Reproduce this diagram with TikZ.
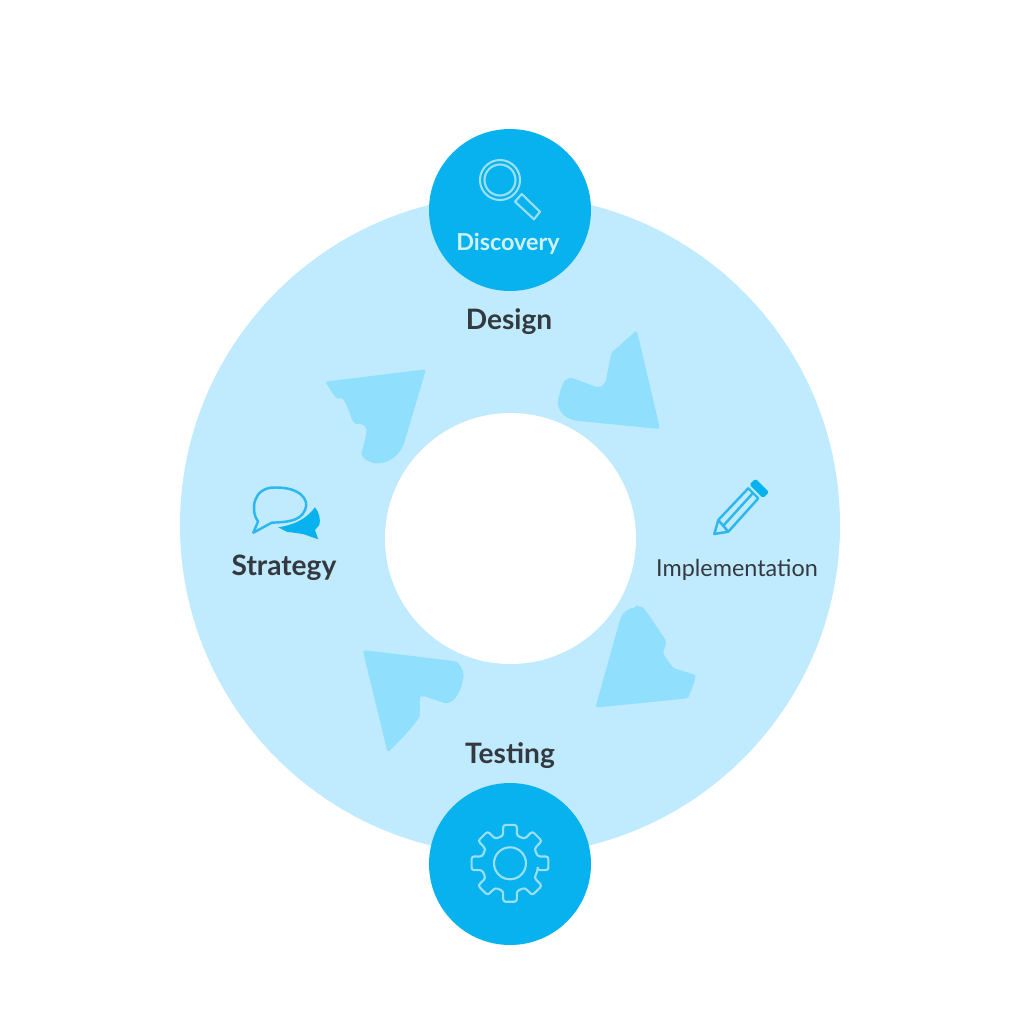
\documentclass[tikz,border=0pt]{standalone}
\usepackage{fontspec}
\setmainfont{Lato}
\definecolor{ringfill}{HTML}{C0EAFD}
\definecolor{wedgefill}{HTML}{90DFFC}
\definecolor{hubfill}{HTML}{08B2EE}
\definecolor{hubline}{HTML}{9BE0F8}
\definecolor{hubtext}{HTML}{CFF1FC}
\definecolor{iconline}{HTML}{2DB7F0}
\definecolor{ink}{HTML}{33393F}
\newcommand{\eight}{\fontsize{8}{10}\selectfont}
\newcommand{\six}{\fontsize{6.65}{8}\selectfont}
\tikzset{
 every node/.append style={font=\eight,text=ink,align=center,inner sep=0pt},
 ring/.style={circle,fill=ringfill,minimum size=6.6cm},
 hole/.style={circle,fill=white,minimum size=2.51cm},
 hub/.style={circle,fill=hubfill,minimum size=1.62cm},
 title/.style={font=\eight\bfseries},
 word/.style={font=\six},
 wedge/.style={fill=wedgefill,rounded corners=.8pt},
 hubicon/.style={draw=hubline,line width=.6pt,line join=round},
 icon/.style={draw=iconline,line width=.7pt,line join=round},
}
\begin{document}
\begin{tikzpicture}

\useasboundingbox (0,0) rectangle (10.24,-10.24);
\node[ring] (ring) at (5.10,-5.25) {};
\node[hole] (hole) at (5.105,-5.385) {};
\fill[wedge] (3.25,-3.817) -- (4.26,-3.693) -- (4.05,-4.40) .. controls (3.98,-4.62) and (3.75,-4.70) .. (3.61,-4.55) -- (3.667,-4.33) .. controls (3.66,-4.22) and (3.56,-4.24) .. (3.533,-4.227) -- (3.467,-4.05) .. controls (3.42,-3.96) and (3.38,-3.99) .. (3.35,-3.967) -- cycle;
\fill[wedge] (6.367,-3.30) -- (6.60,-4.29) -- (5.80,-4.21) .. controls (5.62,-4.19) and (5.55,-4.07) .. (5.60,-3.93) .. controls (5.63,-3.80) and (5.68,-3.77) .. (5.75,-3.79) -- (5.95,-3.865) .. controls (6.02,-3.88) and (6.06,-3.82) .. (6.067,-3.767) -- (6.117,-3.517) -- (6.167,-3.483) -- cycle;
\fill[wedge] (3.627,-6.50) -- (4.533,-6.61) .. controls (4.60,-6.63) and (4.64,-6.72) .. (4.633,-6.783) .. controls (4.60,-6.93) and (4.54,-7.03) .. (4.44,-7.03) -- (4.233,-6.957) .. controls (4.19,-6.97) and (4.20,-7.10) .. (4.20,-7.167) -- (4.067,-7.333) -- (3.877,-7.527) -- cycle;
\fill[wedge] (6.367,-6.073) .. controls (6.42,-6.06) and (6.45,-6.10) .. (6.467,-6.117) -- (6.667,-6.417) -- (6.627,-6.533) -- (6.733,-6.683) -- (6.93,-6.74) .. controls (6.96,-6.76) and (6.95,-6.80) .. (6.95,-6.80) -- (6.883,-6.983) -- (5.99,-7.073) .. controls (5.97,-7.07) and (5.96,-7.05) .. (5.967,-7.03) -- (6.20,-6.20) .. controls (6.23,-6.12) and (6.30,-6.08) .. (6.367,-6.073) -- cycle;
\node[hub] (discovery) at (5.10,-2.10) {};
\node[hub] (testing) at (5.10,-8.64) {};
% labels
\node[word,text=hubtext,font=\six\bfseries] (discoverytext) at (5.08,-2.44) {Discovery};
\node[title] (design) at (5.09,-3.22) {Design};
\node[title] (strategy) at (2.84,-5.68) {Strategy};
\node[word] (implementation) at (7.37,-5.70) {Implementation};
\node[title] (testingtext) at (5.10,-7.56) {Testing};
% magnifier
\draw[hubicon] (5.00,-1.80) circle (.20);
\draw[hubicon] (5.00,-1.80) circle (.155);
\draw[hubicon] (5.217,-1.94) -- (5.40,-2.117) -- (5.34,-2.193) -- (5.15,-2.017) -- cycle;
% gear
\begin{scope}[shift={(5.10,-8.633)}]
\draw[hubicon,rounded corners=.7pt] (-14:.285) \foreach \a in {0,45,...,315} { -- (\a-14:.285) -- (\a-10:.39) -- (\a+10:.39) -- (\a+14:.285) } -- cycle;
\draw[hubicon] (0,0) circle (.16);
\end{scope}
% speech bubbles
\draw[icon] (2.533,-5.327) -- (2.58,-5.217) .. controls (2.50,-5.10) and (2.53,-4.87) .. (2.75,-4.875) .. controls (3.00,-4.87) and (3.10,-5.00) .. (3.05,-5.10) .. controls (3.00,-5.22) and (2.85,-5.22) .. (2.717,-5.227) -- cycle;
\fill[hubfill] (2.783,-5.273) .. controls (3.00,-5.24) and (3.09,-5.15) .. (3.15,-5.073) .. controls (3.19,-5.12) and (3.21,-5.20) .. (3.193,-5.25) -- (3.15,-5.30) -- (3.183,-5.393) -- (3.03,-5.34) -- (2.867,-5.317) -- cycle;
% pencil
\draw[icon] (7.483,-4.883) -- (7.583,-4.983) -- (7.283,-5.317) -- (7.183,-5.20) -- cycle;
\draw[icon] (7.183,-5.20) -- (7.143,-5.34) -- (7.283,-5.317);
\draw[icon] (7.53,-4.93) -- (7.23,-5.26);
\fill[hubfill,rounded corners=.5pt] (7.555,-4.785) -- (7.69,-4.92) -- (7.63,-4.98) -- (7.495,-4.845) -- cycle;
\end{tikzpicture}
\end{document}
